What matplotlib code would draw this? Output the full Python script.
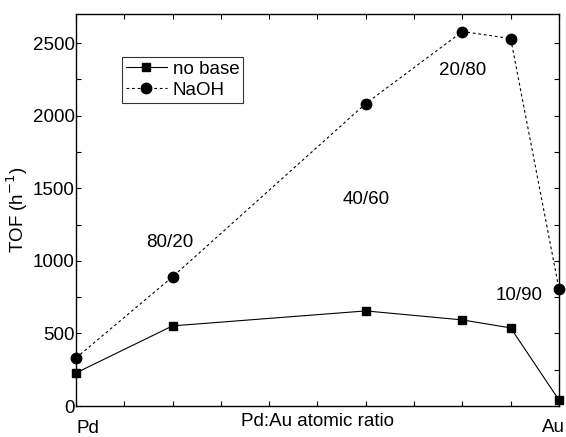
import matplotlib.pyplot as plt
from matplotlib.ticker import MultipleLocator

plt.rcParams["font.family"] = ["Liberation Sans", "DejaVu Sans"]

# Au content (%) along the Pd -> Au axis
au_pct = [0, 20, 60, 80, 90, 100]
tof_no_base = [228, 552, 655, 593, 538, 41]
tof_naoh = [331, 890, 2083, 2579, 2531, 807]

ratio_labels = ["80/20", "40/60", "20/80", "10/90"]
ratio_x = [19.5, 60, 80, 91.7]
ratio_y = [1124, 1421, 2310, 759]

fs = 13.5

fig = plt.figure(figsize=(5.66, 4.37), dpi=100)
ax = fig.add_axes([0.1343, 0.0709, 0.8533, 0.8971])

ax.plot(au_pct, tof_no_base, color="black", lw=0.8, marker="s", ms=6,
        label="no base", clip_on=False, zorder=3)
ax.plot(au_pct, tof_naoh, color="black", lw=0.8, ls=(0, (2.5, 2.5)), marker="o",
        ms=7.5, label="NaOH", clip_on=False, zorder=3)

for lab, x, y in zip(ratio_labels, ratio_x, ratio_y):
    ax.text(x, y, lab, ha="center", va="center", fontsize=fs)

ax.set_xlim(0, 100)
ax.set_ylim(0, 2700)
ax.xaxis.set_major_locator(MultipleLocator(10))
ax.yaxis.set_major_locator(MultipleLocator(500))
ax.yaxis.set_minor_locator(MultipleLocator(250))
ax.set_xticklabels([])
ax.tick_params(which="both", direction="in", top=True, right=True, length=3.5,
               width=0.8, labelsize=fs, pad=1)
ax.tick_params(axis="x", labelbottom=False)
for s in ax.spines.values():
    s.set_linewidth(1.0)

ax.set_ylabel("TOF (h$^{-1}$)", fontsize=fs, labelpad=2)
ax.set_xlabel("Pd:Au atomic ratio", fontsize=fs, labelpad=5)
ax.text(2.5, -155, "Pd", ha="center", va="center", fontsize=fs, clip_on=False)
ax.text(98.8, -145, "Au", ha="center", va="center", fontsize=fs, clip_on=False)

leg = ax.legend(loc="upper left", bbox_to_anchor=(0.095, 0.89), fontsize=fs,
                frameon=True, fancybox=False, borderpad=0.2, handlelength=2.2,
                handletextpad=0.3, labelspacing=0.2, borderaxespad=0)
leg.get_frame().set_edgecolor("black")
leg.get_frame().set_linewidth(0.8)

fig.savefig("out.png", dpi=100)
